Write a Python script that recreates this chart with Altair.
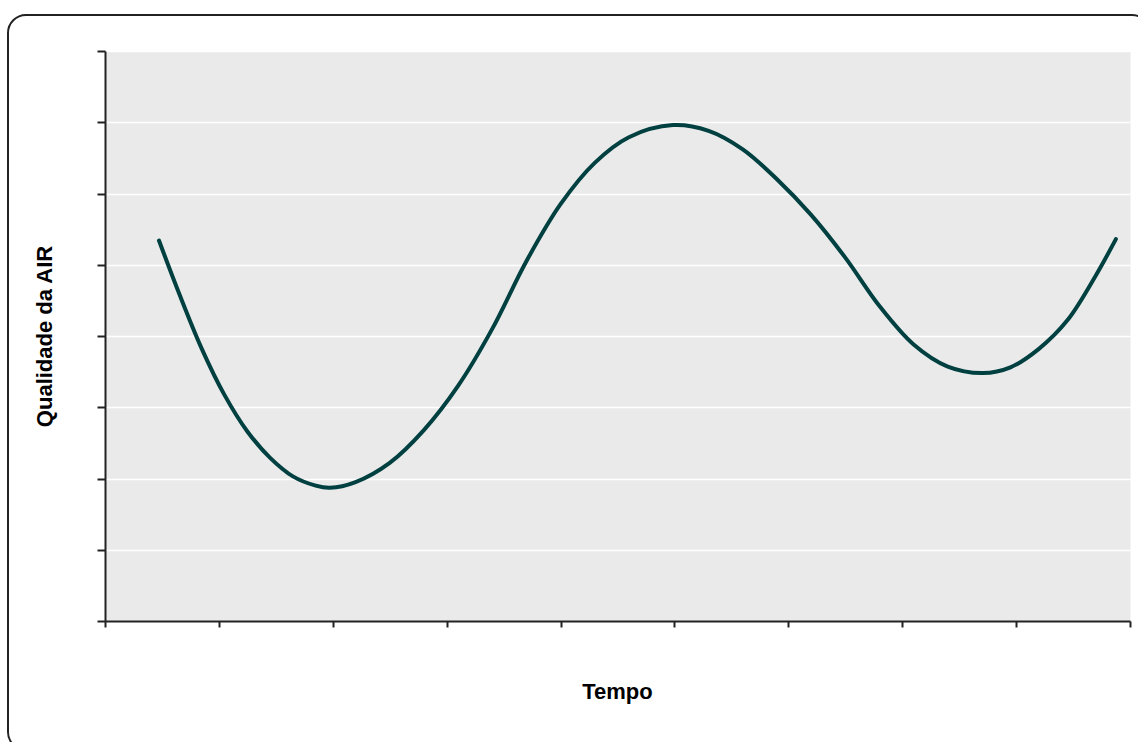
import altair as alt
import pandas as pd

# Curve (x in tick units 0..9, y in gridline units 0..8)
tempo = [0.474, 0.65, 0.85, 1.05, 1.25, 1.45, 1.65, 1.85, 1.975,
         2.2, 2.5, 2.8, 3.1, 3.4, 3.7, 4.0, 4.3, 4.6, 4.987,
         5.3, 5.6, 5.9, 6.2, 6.5, 6.8, 7.1, 7.4, 7.709,
         7.95, 8.2, 8.45, 8.7, 8.876]
qualidade = [5.34, 4.60, 3.82, 3.17, 2.66, 2.29, 2.03, 1.90, 1.87,
             1.95, 2.22, 2.68, 3.30, 4.10, 5.05, 5.85, 6.43, 6.79, 6.96,
             6.88, 6.62, 6.20, 5.70, 5.10, 4.42, 3.88, 3.57, 3.48,
             3.56, 3.82, 4.22, 4.85, 5.36]

x_ticks = [0, 1, 2, 3, 4, 5, 6, 7, 8, 9]
y_ticks = [0, 1, 2, 3, 4, 5, 6, 7, 8]

df = pd.DataFrame({"Tempo": tempo, "Qualidade": qualidade})

line = alt.Chart(df).mark_line(
    color="#004040", strokeWidth=4, interpolate="catmull-rom", strokeCap="round"
).encode(
    x=alt.X(
        "Tempo:Q",
        scale=alt.Scale(domain=[0, 9], nice=False, zero=False),
        axis=alt.Axis(
            values=x_ticks, labels=False, grid=False, tickSize=6,
            title="Tempo", titleX=512, titleY=77,
            titleBaseline="alphabetic", titleAlign="center",
        ),
    ),
    y=alt.Y(
        "Qualidade:Q",
        scale=alt.Scale(domain=[0, 8], nice=False, zero=False),
        axis=alt.Axis(
            values=y_ticks, labels=False, grid=True, gridColor="white",
            gridWidth=1.5, tickSize=8,
            title="Qualidade da AIR", titleX=-54, titleY=285,
            titleBaseline="alphabetic", titleAlign="center",
        ),
    ),
)

border = alt.Chart(pd.DataFrame({"b": [0]})).mark_rect(
    filled=False, stroke="#222222", strokeWidth=2, cornerRadius=18, clip=False
).encode(
    x=alt.value(-97), x2=alt.value(1045), y=alt.value(-36), y2=alt.value(699)
)

chart = alt.layer(border, line).properties(
    width=1025,
    height=570,
    autosize="none",
    padding={"left": 105, "top": 51, "right": 8, "bottom": 121},
    background="white",
).configure_view(
    fill="#EAEAEA", stroke="transparent"
).configure_axis(
    domainColor="#222222", domainWidth=2, tickColor="#222222", tickWidth=2,
    titleFont="Liberation Sans", titleFontWeight="bold", titleFontSize=22,
    titleColor="black",
)

chart.save("out.html", embed_options={"renderer": "svg", "actions": False})
